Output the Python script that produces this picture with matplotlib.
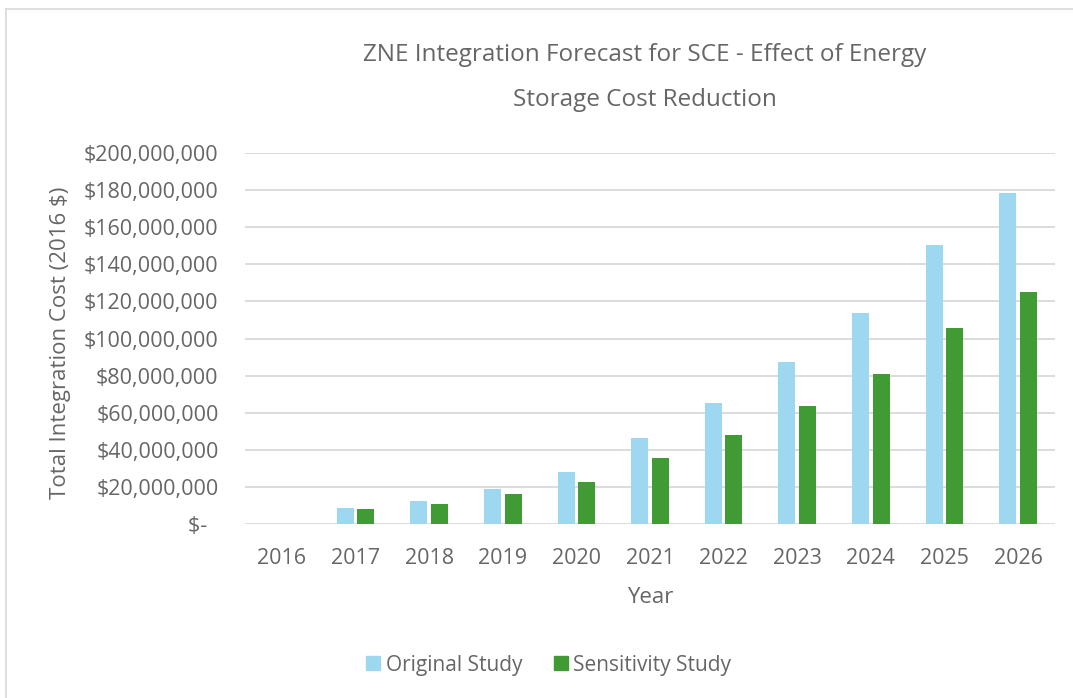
import numpy as np
import matplotlib
matplotlib.use('Agg')
import matplotlib.pyplot as plt
from matplotlib.lines import Line2D

plt.rcParams['font.family'] = ['Open Sans', 'DejaVu Sans']

years = ['2016', '2017', '2018', '2019', '2020', '2021', '2022', '2023', '2024', '2025', '2026']
original = [0, 8.6, 12.4, 18.9, 27.8, 46.6, 65.2, 87.4, 113.8, 150.4, 178.7]
sensitivity = [0, 7.9, 10.9, 16.2, 22.8, 35.4, 47.9, 63.4, 81.1, 105.4, 125.2]
original = [v * 1e6 for v in original]
sensitivity = [v * 1e6 for v in sensitivity]

grey = '#666666'
blue = '#9DD8F0'
green = '#409B34'

fig = plt.figure(figsize=(10.73, 6.98), dpi=100)
ax = fig.add_axes([245 / 1073, 1 - 524 / 698, 810 / 1073, 371 / 698])

x = np.arange(len(years))
w = 0.23
ax.bar(x - w / 2 - 0.025, original, width=w, color=blue, label='Original Study', zorder=3)
ax.bar(x + w / 2 + 0.025, sensitivity, width=w, color=green, label='Sensitivity Study', zorder=3)

ax.set_xlim(-0.5, len(years) - 0.5)
ax.set_ylim(0, 200e6)
ticks = np.arange(0, 200e6 + 1, 20e6)
ax.set_yticks(ticks)
labels = ['$-  '] + ['${:,.0f}'.format(t) for t in ticks[1:]]
ax.set_yticklabels(labels)
ax.set_xticks(x)
ax.set_xticklabels(years)
ax.tick_params(length=0, colors=grey, labelsize=15.5)
ax.tick_params(axis='y', pad=19)
ax.tick_params(axis='x', pad=17.5)
ax.grid(axis='y', color='#D9D9D9', linewidth=1.3, zorder=0)
for s in ax.spines.values():
    s.set_visible(False)

ax.set_xlabel('Year', color=grey, fontsize=16, labelpad=13)
ax.set_ylabel('Total Integration Cost (2016 $)', color=grey, fontsize=16)
ax.yaxis.set_label_coords(-0.215, 0.488)

# title, two lines as in the original
fig.text(645 / 1073, 1 - 55 / 698, 'ZNE Integration Forecast for SCE - Effect of Energy',
         ha='center', va='center', color=grey, fontsize=17.5)
fig.text(645 / 1073, 1 - 100 / 698, 'Storage Cost Reduction',
         ha='center', va='center', color=grey, fontsize=17.5)

handles = [Line2D([], [], marker='s', linestyle='none', markersize=10, color=blue),
           Line2D([], [], marker='s', linestyle='none', markersize=10, color=green)]
fig.legend(handles, ['Original Study', 'Sensitivity Study'], loc='center',
           bbox_to_anchor=(546 / 1073, 1 - 665 / 698), ncol=2, frameon=False,
           fontsize=15, labelcolor=grey, handletextpad=0.0, columnspacing=1.26,
           handlelength=1.2)

# chart border (left and top edges visible)
fig.add_artist(Line2D([6 / 1073, 6 / 1073], [0, 1 - 9 / 698], transform=fig.transFigure, color='#D9D9D9', lw=1.2))
fig.add_artist(Line2D([6 / 1073, 1], [1 - 9 / 698, 1 - 9 / 698], transform=fig.transFigure, color='#D9D9D9', lw=1.2))

fig.savefig('out.png', dpi=100)
